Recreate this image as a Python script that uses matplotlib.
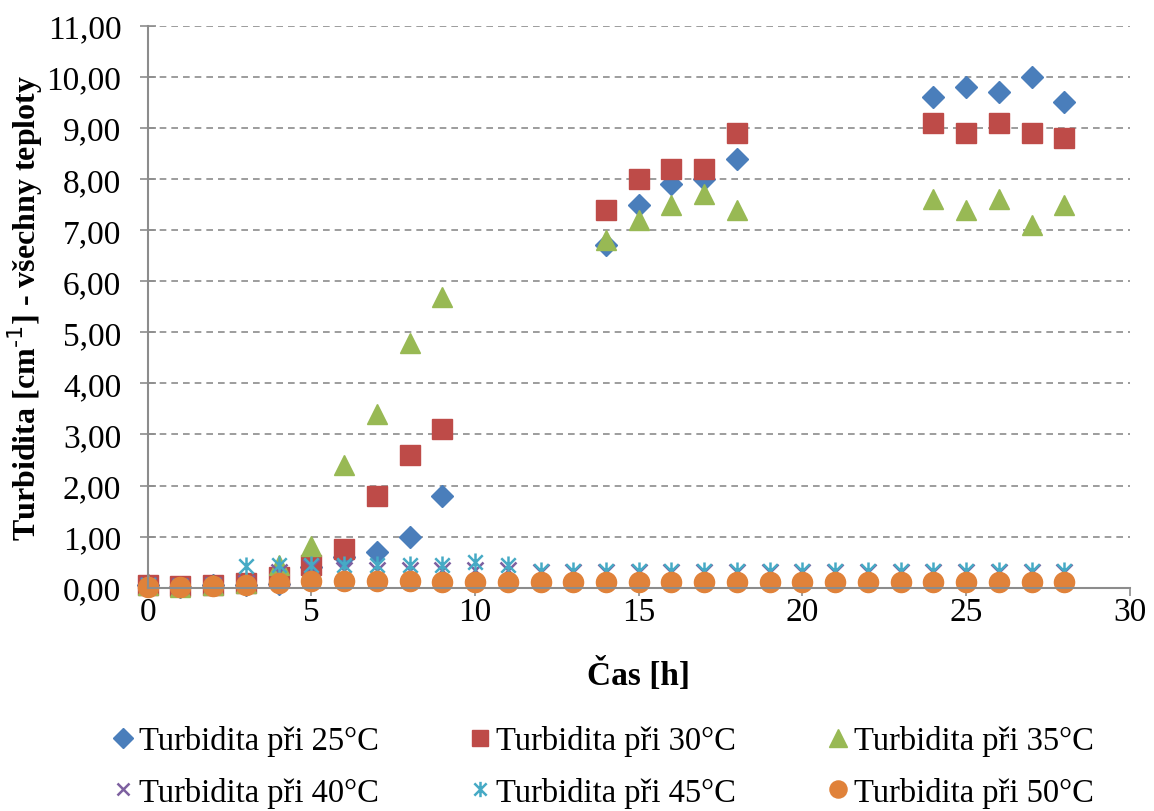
import matplotlib
matplotlib.use('Agg')
import matplotlib.pyplot as plt
from matplotlib.path import Path
from matplotlib.ticker import FuncFormatter, MultipleLocator

plt.rcParams['font.family'] = ['Liberation Serif', 'DejaVu Serif']
plt.rcParams['axes.unicode_minus'] = False

# time points [h]
t_long = list(range(0, 29))
t_short = [0, 1, 2, 3, 4, 5, 6, 7, 8, 9, 14, 15, 16, 17, 18, 24, 25, 26, 27, 28]

turb_25 = [0.05, 0.02, 0.05, 0.05, 0.08, 0.40, 0.60, 0.70, 1.00, 1.80,
           6.70, 7.50, 7.90, 8.00, 8.40, 9.60, 9.80, 9.70, 10.00, 9.50]
turb_30 = [0.05, 0.03, 0.05, 0.10, 0.20, 0.45, 0.75, 1.80, 2.60, 3.10,
           7.40, 8.00, 8.20, 8.20, 8.90, 9.10, 8.90, 9.10, 8.90, 8.80]
turb_35 = [0.05, 0.02, 0.05, 0.10, 0.45, 0.82, 2.40, 3.40, 4.80, 5.70,
           6.80, 7.20, 7.50, 7.70, 7.40, 7.60, 7.40, 7.60, 7.10, 7.50]
turb_40 = [0.05, 0.03, 0.05, 0.10, 0.30, 0.40, 0.35, 0.35, 0.35, 0.35,
           0.35, 0.35, 0.30, 0.30, 0.30, 0.30, 0.30, 0.30, 0.30, 0.30,
           0.30, 0.30, 0.30, 0.30, 0.30, 0.30, 0.30, 0.30, 0.30]
turb_45 = [0.05, 0.03, 0.05, 0.42, 0.45, 0.45, 0.45, 0.45, 0.45, 0.45,
           0.50, 0.45, 0.32, 0.32, 0.32, 0.32, 0.32, 0.32, 0.32, 0.32,
           0.32, 0.32, 0.32, 0.32, 0.32, 0.32, 0.32, 0.32, 0.32]
turb_50 = [0.02, 0.02, 0.04, 0.06, 0.10, 0.13, 0.13, 0.13, 0.13, 0.12,
           0.12, 0.12, 0.12, 0.12, 0.12, 0.12, 0.12, 0.12, 0.12, 0.12,
           0.12, 0.12, 0.12, 0.12, 0.12, 0.12, 0.12, 0.12, 0.12]

# star marker: vertical bar plus a diagonal cross
star = Path([(0, -1), (0, 1), (-0.8, -0.8), (0.8, 0.8), (-0.8, 0.8), (0.8, -0.8)],
            [Path.MOVETO, Path.LINETO, Path.MOVETO, Path.LINETO, Path.MOVETO, Path.LINETO])

fig = plt.figure(figsize=(11.54, 8.12), dpi=100)
ax = fig.add_axes([0.128, 0.275, 0.851, 0.692])

h25, = ax.plot(t_short, turb_25, 'D', color='#4A7EBB', ms=11.5, label='Turbidita při 25°C')
h30, = ax.plot(t_short, turb_30, 's', color='#BE4B48', ms=14, label='Turbidita při 30°C')
h35, = ax.plot(t_short, turb_35, '^', color='#98B954', ms=14.5, label='Turbidita při 35°C')
h40, = ax.plot(t_long, turb_40, 'x', color='#7D60A0', ms=11, mew=1.8, label='Turbidita při 40°C')
h45, = ax.plot(t_long, turb_45, ls='none', marker=star, color='#46AAC5', ms=13, mew=1.8, label='Turbidita při 45°C')
h50, = ax.plot(t_long, turb_50, 'o', color='#E0823A', ms=14.5, label='Turbidita při 50°C')

for h in (h25, h30, h35, h40, h45, h50):
    h.set_clip_on(False)

ax.set_xlim(0, 30)
ax.set_ylim(0, 11)
ax.xaxis.set_major_locator(MultipleLocator(5))
ax.yaxis.set_major_locator(MultipleLocator(1))
ax.yaxis.set_major_formatter(FuncFormatter(lambda v, p: f'{v:.2f}'.replace('.', ',')))

ax.grid(axis='y', color='#8C8C8C', ls=(0, (4, 3)), lw=1.2)
ax.set_axisbelow(True)
for s in ('top', 'right'):
    ax.spines[s].set_visible(False)
for s in ('left', 'bottom'):
    ax.spines[s].set_color('#8C8C8C')
    ax.spines[s].set_linewidth(1.5)
ax.tick_params(axis='y', direction='inout', length=12, width=1.2, color='#8C8C8C', labelsize=24, pad=13)
ax.tick_params(axis='x', direction='out', length=6, width=1.2, color='#8C8C8C', labelsize=24, pad=0)

ax.set_xlabel('Čas [h]', fontsize=24, fontweight='bold', labelpad=22)
ax.set_ylabel('Turbidita [cm$^{\\text{-1}}$] - všechny teploty', fontsize=23,
              fontweight='bold', labelpad=1)

# row-wise legend order (matplotlib fills columns first)
handles = [h25, h40, h30, h45, h35, h50]
fig.legend(handles=handles, labels=[h.get_label() for h in handles], loc='lower center',
           bbox_to_anchor=(0.52, -0.032), ncol=3, frameon=False, fontsize=23.5,
           handletextpad=0.0, columnspacing=2.6, handlelength=1.0, labelspacing=0.62,
           markerscale=0.85)

fig.savefig('out.png', dpi=100)
